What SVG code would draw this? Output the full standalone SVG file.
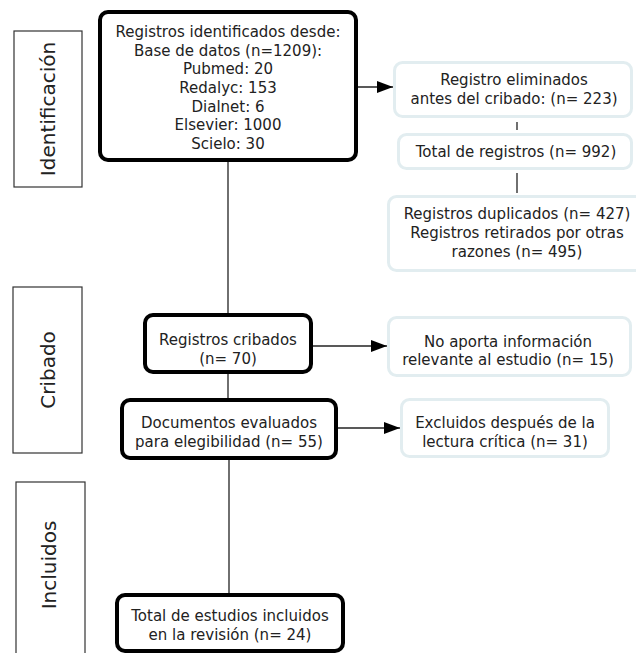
<svg xmlns="http://www.w3.org/2000/svg" width="636" height="653" viewBox="0 0 636 653">
<defs>
<style>
text{font-family:"DejaVu Sans","Verdana",sans-serif;font-size:15px;fill:#222;text-anchor:middle}
.main{fill:#fff;stroke:#000;stroke-width:4}
.side{fill:#fff;stroke:#e2edf0;stroke-width:3}
.lab{fill:#fff;stroke:#333;stroke-width:1.2}
.labt{font-size:20px}
.conn{stroke:#222;stroke-width:1.3;fill:none}
</style>
<marker id="ah" viewBox="0 0 16 12" refX="16" refY="6" markerWidth="16" markerHeight="12" markerUnits="userSpaceOnUse" orient="auto">
<path d="M0,0 L16,6 L0,12 z" fill="#000"/>
</marker>
</defs>
<g id="connectors">
<line class="conn" x1="228" y1="162" x2="228" y2="313"/>
<line class="conn" x1="228" y1="374" x2="228" y2="398"/>
<line class="conn" x1="229" y1="460" x2="229" y2="593"/>
<line class="conn" x1="358" y1="87" x2="393" y2="87" marker-end="url(#ah)"/>
<line class="conn" x1="517" y1="122" x2="517" y2="130"/>
<line class="conn" x1="517" y1="173" x2="517" y2="193"/>
<line class="conn" x1="313" y1="346" x2="387" y2="346" marker-end="url(#ah)"/>
<line class="conn" x1="338" y1="428" x2="400" y2="428" marker-end="url(#ah)"/>
</g>
<g id="lab-identificacion">
<rect class="lab" x="14" y="31" width="68" height="156"/>
<text class="labt" transform="translate(55,109) rotate(-90)">Identificación</text>
</g>
<g id="lab-cribado">
<rect class="lab" x="13" y="287" width="69" height="166"/>
<text class="labt" transform="translate(55,370) rotate(-90)">Cribado</text>
</g>
<g id="lab-incluidos">
<rect class="lab" x="16" y="482" width="69" height="175"/>
<text class="labt" transform="translate(56,565) rotate(-90)">Incluidos</text>
</g>
<g id="n-identificados">
<rect class="main" x="100" y="12" width="256" height="148" rx="8"/>
<text x="228" y="37">Registros identificados desde:</text>
<text x="228" y="56">Base de datos (n=1209):</text>
<text x="228" y="74">Pubmed: 20</text>
<text x="228" y="93">Redalyc: 153</text>
<text x="228" y="112">Dialnet: 6</text>
<text x="228" y="130">Elsevier: 1000</text>
<text x="228" y="149">Scielo: 30</text>
</g>
<g id="n-eliminados">
<rect class="side" x="394.5" y="62.5" width="237" height="54" rx="8"/>
<text x="514" y="85">Registro eliminados</text>
<text x="514" y="104">antes del cribado: (n= 223)</text>
</g>
<g id="n-total">
<rect class="side" x="398.5" y="134.5" width="233" height="34" rx="8"/>
<text x="516" y="157">Total de registros (n= 992)</text>
</g>
<g id="n-duplicados">
<rect class="side" x="388.5" y="196.5" width="255" height="74" rx="8"/>
<text x="517" y="219">Registros duplicados (n= 427)</text>
<text x="517" y="238">Registros retirados por otras</text>
<text x="517" y="257">razones (n= 495)</text>
</g>
<g id="n-cribados">
<rect class="main" x="145" y="315" width="166" height="57" rx="8"/>
<text x="228" y="345">Registros cribados</text>
<text x="228" y="364">(n= 70)</text>
</g>
<g id="n-noaporta">
<rect class="side" x="388.5" y="317.5" width="242" height="58" rx="8"/>
<text x="508" y="347">No aporta información</text>
<text x="508" y="365">relevante al estudio (n= 15)</text>
</g>
<g id="n-documentos">
<rect class="main" x="122" y="400" width="214" height="58" rx="8"/>
<text x="229" y="428">Documentos evaluados</text>
<text x="229" y="447">para elegibilidad (n= 55)</text>
</g>
<g id="n-excluidos">
<rect class="side" x="401.5" y="399.5" width="207" height="57" rx="8"/>
<text x="505" y="428">Excluidos después de la</text>
<text x="505" y="447">lectura crítica (n= 31)</text>
</g>
<g id="n-incluidos">
<rect class="main" x="117" y="595" width="226" height="56" rx="8"/>
<text x="230" y="621">Total de estudios incluidos</text>
<text x="230" y="640">en la revisión (n= 24)</text>
</g>
</svg>
